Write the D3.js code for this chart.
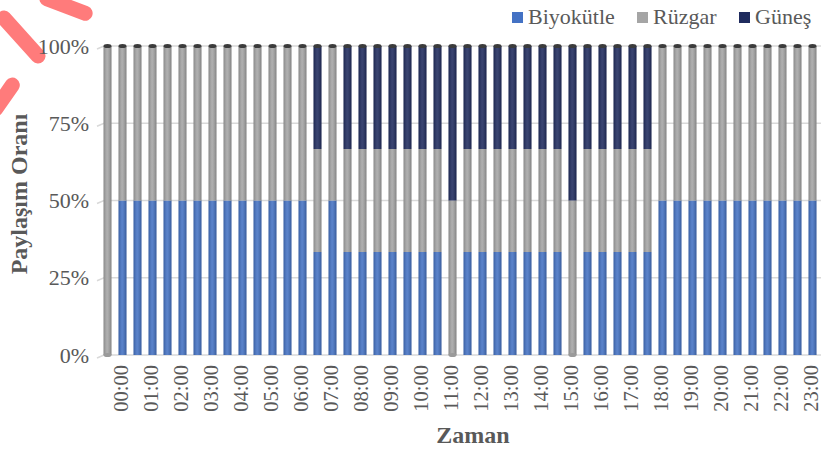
<!DOCTYPE html>
<html>
<head>
<meta charset="utf-8">
<script src="https://cdn.jsdelivr.net/npm/d3@7"></script>
<style>
  body { margin: 0; background: #fff; }
  svg { display: block; font-family: "Liberation Serif", "Times New Roman", serif; }
</style>
</head>
<body>
<div id="chart"></div>
<script>
// half-hour slots, first one is the previous 23:30
var times = ["23:30","00:00","00:30","01:00","01:30","02:00","02:30","03:00","03:30","04:00","04:30","05:00",
  "05:30","06:00","06:30","07:00","07:30","08:00","08:30","09:00","09:30","10:00","10:30","11:00",
  "11:30","12:00","12:30","13:00","13:30","14:00","14:30","15:00","15:30","16:00","16:30","17:00",
  "17:30","18:00","18:30","19:00","19:30","20:00","20:30","21:00","21:30","22:00","22:30","23:00"];

var biyokutle = [0,50,50,50,50,50,50,50,50,50,50,50,50,50,33.3,50,33.3,33.3,33.3,33.3,33.3,33.3,33.3,0,
  33.3,33.3,33.3,33.3,33.3,33.3,33.3,0,33.3,33.3,33.3,33.3,33.3,50,50,50,50,50,50,50,50,50,50,50];
var ruzgar = [100,50,50,50,50,50,50,50,50,50,50,50,50,50,33.3,50,33.3,33.3,33.3,33.3,33.3,33.3,33.3,50,
  33.3,33.3,33.3,33.3,33.3,33.3,33.3,50,33.3,33.3,33.3,33.3,33.3,50,50,50,50,50,50,50,50,50,50,50];
var gunes = [0,0,0,0,0,0,0,0,0,0,0,0,0,0,33.3,0,33.3,33.3,33.3,33.3,33.3,33.3,33.3,50,
  33.3,33.3,33.3,33.3,33.3,33.3,33.3,50,33.3,33.3,33.3,33.3,33.3,0,0,0,0,0,0,0,0,0,0,0];

var seriesNames = ["Biyokütle", "Rüzgar", "Güneş"];
var seriesColors = ["#4472c4", "#a5a5a5", "#1f2b5e"];
var yTicks = [0, 0.25, 0.5, 0.75, 1];

var width = 821, height = 450;
var txt = "#595959";

var svg = d3.select("#chart").append("svg")
  .attr("width", width).attr("height", height);

var defs = svg.append("defs");
var grad = defs.append("linearGradient").attr("id", "cyl")
  .attr("x1", "0%").attr("x2", "100%").attr("y1", "0%").attr("y2", "0%");
grad.append("stop").attr("offset", "0%").attr("stop-color", "#000").attr("stop-opacity", 0.18);
grad.append("stop").attr("offset", "45%").attr("stop-color", "#fff").attr("stop-opacity", 0.12);
grad.append("stop").attr("offset", "100%").attr("stop-color", "#000").attr("stop-opacity", 0.22);

// red marker strokes over the top-left corner: [cx, cy, length, angle]
var marks = [[21, 37, 66, 48], [66, 6, 56, 21], [4, 97, 44, -55]];
svg.selectAll(".mark").data(marks).enter().append("rect")
  .attr("class", "mark")
  .attr("x", d => -d[2] / 2).attr("y", -7.5)
  .attr("width", d => d[2]).attr("height", 15)
  .attr("rx", 7.5).attr("ry", 7.5)
  .attr("transform", d => "translate(" + d[0] + "," + d[1] + ") rotate(" + d[3] + ")")
  .attr("fill", "#ff7b7b");

var x = d3.scaleBand().domain(times).range([100, 820]).paddingInner(0.47).paddingOuter(0.235);
var y = d3.scaleLinear().domain([0, 1]).range([355, 46]);

// gridlines with the little 3D floor slant
var grid = svg.append("g");
yTicks.forEach(function(t) {
  grid.append("path")
    .attr("d", "M97," + (y(t) + 3) + "L104," + y(t) + "H821")
    .attr("stroke", "#d9d9d9").attr("stroke-width", 1.5).attr("fill", "none");
});

var yAxis = d3.axisLeft(y).tickValues(yTicks).tickFormat(d3.format(".0%")).tickSize(0).tickPadding(0);
svg.append("g").attr("transform", "translate(89,0)").call(yAxis)
  .call(g => g.select(".domain").remove())
  .selectAll("text")
  .attr("font-family", "Liberation Serif").attr("font-size", 22).attr("fill", txt);

var table = times.map(function(t, i) {
  return { time: t, "Biyokütle": biyokutle[i], "Rüzgar": ruzgar[i], "Güneş": gunes[i] };
});
var stack = d3.stack().keys(seriesNames).offset(d3.stackOffsetExpand);
var stacked = stack(table);

var bw = x.bandwidth();
var layers = svg.selectAll(".layer").data(stacked).enter().append("g");
layers.selectAll("rect").data(d => d.filter(p => p[1] - p[0] > 0)).enter().append("rect")
  .attr("x", d => x(d.data.time))
  .attr("y", d => y(d[1]))
  .attr("width", bw)
  .attr("height", d => y(d[0]) - y(d[1]))
  .attr("fill", function() { return seriesColors[seriesNames.indexOf(d3.select(this.parentNode).datum().key)]; });
layers.selectAll(".shade").data(d => d.filter(p => p[1] - p[0] > 0)).enter().append("rect")
  .attr("x", d => x(d.data.time))
  .attr("y", d => y(d[1]))
  .attr("width", bw)
  .attr("height", d => y(d[0]) - y(d[1]))
  .attr("fill", "url(#cyl)");

// bottom ellipse on bars whose lowest piece is Rüzgar, top cap on all
svg.selectAll(".bot").data(table.filter(d => d["Biyokütle"] === 0)).enter().append("ellipse")
  .attr("cx", d => x(d.time) + bw / 2).attr("cy", y(0))
  .attr("rx", bw / 2).attr("ry", 2).attr("fill", "#9a9a9a");
svg.selectAll(".cap").data(table).enter().append("ellipse")
  .attr("cx", d => x(d.time) + bw / 2).attr("cy", y(1))
  .attr("rx", bw / 2).attr("ry", 2).attr("fill", "#3b3b3b");

// hour labels on every second slot
var hourTimes = times.filter((t, i) => i % 2 === 1);
svg.append("g").selectAll("text").data(hourTimes).enter().append("text")
  .attr("transform", d => "translate(" + (x(d) + bw / 2 - 2) + ",365) rotate(-90)")
  .attr("text-anchor", "end").attr("dominant-baseline", "central")
  .attr("font-size", 20.5).attr("fill", txt)
  .text(d => d);

svg.append("text")
  .attr("transform", "translate(19,194) rotate(-90)")
  .attr("text-anchor", "middle").attr("dominant-baseline", "central")
  .attr("font-size", 24).attr("font-weight", "bold").attr("fill", txt)
  .text("Paylaşım Oranı");

svg.append("text")
  .attr("x", 473).attr("y", 443)
  .attr("text-anchor", "middle")
  .attr("font-size", 24).attr("font-weight", "bold").attr("fill", txt)
  .text("Zaman");

var legendX = [512, 637, 739];
var legend = svg.append("g").selectAll("g").data(seriesNames).enter().append("g")
  .attr("transform", (d, i) => "translate(" + legendX[i] + ",0)");
legend.append("rect").attr("x", 0).attr("y", 12).attr("width", 11).attr("height", 11)
  .attr("fill", (d, i) => seriesColors[i]);
legend.append("text").attr("x", 16).attr("y", 24)
  .attr("font-size", 22).attr("fill", txt).text(d => d);
</script>
</body>
</html>
